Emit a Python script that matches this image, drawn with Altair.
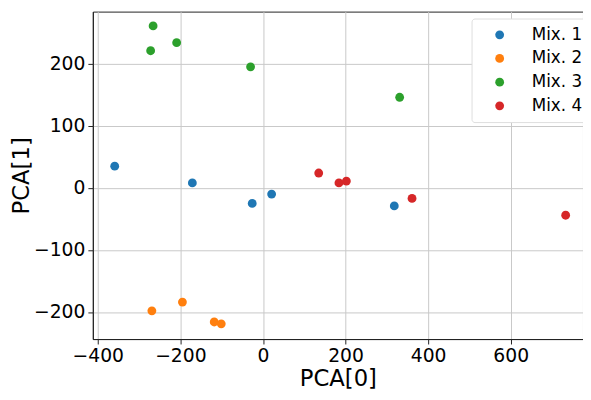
import altair as alt
import pandas as pd

groups = ["Mix. 1", "Mix. 2", "Mix. 3", "Mix. 4"]
colors = ["#1f77b4", "#ff7f0e", "#2ca02c", "#d62728"]

mix1_x = [-359, -171, -26, 21, 318]
mix1_y = [35, 8, -25, -10, -29]
mix2_x = [-269, -195, -118, -101]
mix2_y = [-198, -184, -216, -219]
mix3_x = [-266, -272, -209, -30, 331]
mix3_y = [261, 221, 234, 195, 146]
mix4_x = [135, 184, 202, 361, 733]
mix4_y = [24, 8, 11, -17, -44]

xs = [mix1_x, mix2_x, mix3_x, mix4_x]
ys = [mix1_y, mix2_y, mix3_y, mix4_y]
rows = []
for g, gx, gy in zip(groups, xs, ys):
    for a, b in zip(gx, gy):
        rows.append({"PCA0": a, "PCA1": b, "group": g})
df = pd.DataFrame(rows)

x_ticks = [-400, -200, 0, 200, 400, 600]
y_ticks = [-200, -100, 0, 100, 200]

axis_style = dict(format="d", labelFont="DejaVu Sans", titleFont="DejaVu Sans",
                  labelFontSize=19, titleFontSize=23, titleFontWeight="normal",
                  labelColor="black", titleColor="black",
                  domainColor="#222222", tickColor="#222222", tickSize=5,
                  gridColor="#c8c8c8", gridWidth=1, labelPadding=3)

chart = alt.Chart(df).mark_circle(size=80, opacity=1).encode(
    x=alt.X("PCA0:Q", title="PCA[0]",
            scale=alt.Scale(domain=[-412, 775], nice=False, zero=False),
            axis=alt.Axis(values=x_ticks, titlePadding=2, **axis_style)),
    y=alt.Y("PCA1:Q", title="PCA[1]",
            scale=alt.Scale(domain=[-243.5, 284], nice=False, zero=False),
            axis=alt.Axis(values=y_ticks, titlePadding=0, **axis_style)),
    color=alt.Color("group:N", scale=alt.Scale(domain=groups, range=colors),
                    legend=alt.Legend(title=None, orient="none", legendX=384, legendY=7,
                                      labelFontSize=17, labelFont="DejaVu Sans",
                                      labelColor="black",
                                      symbolSize=80, symbolType="circle",
                                      strokeColor="#dddddd", fillColor="white",
                                      cornerRadius=3, padding=8, symbolOffset=12,
                                      labelOffset=24, rowPadding=6)),
).properties(
    width=497, height=332,
    autosize=alt.AutoSizeParams(type="none"),
    padding={"left": 86, "top": 1, "right": 0, "bottom": 50},
).configure_view(
    stroke="#222222", strokeWidth=1
)

chart.save("out.html", embed_options={"renderer": "svg", "actions": False})
